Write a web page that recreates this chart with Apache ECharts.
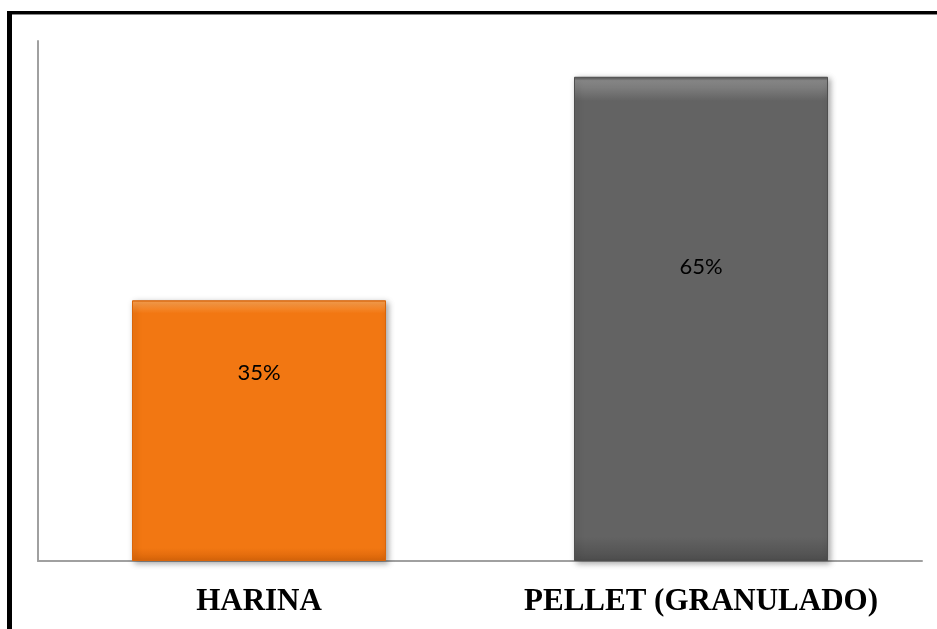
<!DOCTYPE html>
<html>
<head>
<meta charset="utf-8">
<script src="https://cdn.jsdelivr.net/npm/echarts@6/dist/echarts.min.js"></script>
<style>html,body{margin:0;padding:0;background:#fff}#c{width:937px;height:629px}</style>
</head>
<body>
<div id="c"></div>
<script>
var categories = ['HARINA', 'PELLET (GRANULADO)'];
var values = [35, 65];
var valueLabels = ['35%', '65%'];

var chart = echarts.init(document.getElementById('c'));
var barColors = [
  ['#FA9C48', '#F27712', '#D9650A'],
  ['#8A8A8A', '#636363', '#4E4E4E']
];
var labelOffsets = [[0, -58], [0, -52]];
var data = values.map(function (v, i) {
  return {
    value: v,
    itemStyle: {
      color: new echarts.graphic.LinearGradient(0, 0, 0, 1, [
        {offset: 0, color: barColors[i][2]},
        {offset: 0.008, color: barColors[i][0]},
        {offset: 0.05, color: barColors[i][1]},
        {offset: 0.95, color: barColors[i][1]},
        {offset: 1, color: barColors[i][2]}
      ]),
      borderColor: barColors[i][2],
      borderWidth: 1
    },
    label: {offset: labelOffsets[i]}
  };
});
chart.setOption({
  animation: false,
  backgroundColor: '#ffffff',
  grid: {left: 38, right: 15, top: 41, bottom: 68, containLabel: false},
  xAxis: {
    type: 'category',
    data: categories,
    axisLine: {lineStyle: {color: '#A0A0A0', width: 2}},
    axisTick: {show: false},
    axisLabel: {
      margin: 25,
      color: '#000',
      fontFamily: '"Liberation Serif", "Times New Roman", serif',
      fontWeight: 'bold',
      fontSize: 31,
      interval: 0
    }
  },
  yAxis: {
    type: 'value',
    min: 0, max: 69.8,
    axisLine: {show: true, lineStyle: {color: '#A0A0A0', width: 2}},
    axisTick: {show: false},
    axisLabel: {show: false},
    splitLine: {show: false}
  },
  series: [{
    type: 'bar',
    data: data,
    barWidth: 254,
    itemStyle: {shadowColor: 'rgba(0,0,0,0.35)', shadowBlur: 6, shadowOffsetX: 2, shadowOffsetY: 2},
    label: {
      show: true,
      position: 'inside',
      color: '#000',
      fontFamily: 'Lato, "Open Sans", sans-serif',
      fontSize: 22,
      formatter: function (p) { return valueLabels[p.dataIndex]; }
    }
  }],
  graphic: [
    {type: 'rect', shape: {x: 7, y: 11, width: 930, height: 3}, style: {fill: '#000'}},
    {type: 'rect', shape: {x: 12, y: 14, width: 925, height: 1}, style: {fill: '#888'}},
    {type: 'rect', shape: {x: 7, y: 11, width: 5, height: 618}, style: {fill: '#000'}}
  ]
});
</script>
</body>
</html>
